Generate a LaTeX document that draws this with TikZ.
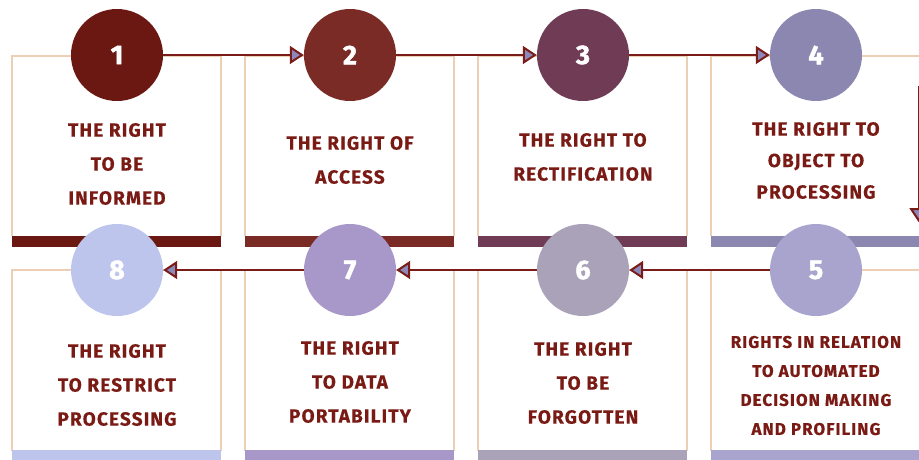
\documentclass[tikz,border=0pt]{standalone}
\usepackage{fontspec}
\setmainfont{Fira Sans}
\newfontfamily\lblfont[LetterSpace=6,BoldFeatures={FakeBold=0.4}]{Fira Sans}
\newfontfamily\numfont[BoldFeatures={FakeBold=1.6}]{Fira Sans}
\usetikzlibrary{arrows.meta}
\definecolor{txt}{HTML}{7A1A14}
\definecolor{conncol}{HTML}{7A1C18}
\definecolor{beige}{HTML}{EDCFB6}
\definecolor{afill}{HTML}{8C88BA}
\definecolor{cA}{HTML}{6C1812}
\definecolor{cB}{HTML}{7A2B25}
\definecolor{cC}{HTML}{6F3B55}
\definecolor{cD}{HTML}{8B87B1}
\definecolor{cE}{HTML}{A9A4CD}
\definecolor{cF}{HTML}{A9A2B8}
\definecolor{cG}{HTML}{A898C9}
\definecolor{cH}{HTML}{BEC5EC}
\tikzset{
  boxline/.style={draw=beige, line width=1.5pt},
  num/.style={circle, minimum size=92pt, inner sep=0pt, text=white,
    font=\numfont\bfseries\fontsize{27}{27}\selectfont},
  lbl/.style={align=center, text=txt, inner sep=0pt,
    font=\lblfont\bfseries\fontsize{19}{34}\selectfont},
  lblmid/.style={align=center, text=txt, inner sep=0pt,
    font=\lblfont\bfseries\fontsize{19}{31.5}\selectfont},
  lblsmall/.style={align=center, text=txt, inner sep=0pt,
    font=\lblfont\bfseries\fontsize{17}{29}\selectfont},
  conn/.style={draw=conncol, line width=2pt,
    -{Triangle[length=14pt,width=18pt,fill=afill]}}
}
\begin{document}
\begin{tikzpicture}[x=1pt,y=-1pt]
\useasboundingbox (0,0) rectangle (919,459);
\clip (0,0) rectangle (919,459);
% boxes, top row
\foreach \xl/\col in {12/cA,245/cB,478/cC,711/cD}{
  \draw[boxline] (\xl,236) -- (\xl,56) -- (\xl+209,56) -- (\xl+209,236);
  \fill[\col] (\xl,236) rectangle (\xl+209,247);
}
% boxes, bottom row
\foreach \xl/\col in {12/cH,245/cG,478/cF,711/cE}{
  \draw[boxline] (\xl,451) -- (\xl,270) -- (\xl+209,270) -- (\xl+209,451);
  \fill[\col] (\xl,450) rectangle (\xl+209,462);
}
% circles
\node[num, fill=cA] (n1) at (117,55) {1};
\node[num, fill=cB] (n2) at (350,55) {2};
\node[num, fill=cC] (n3) at (583,55) {3};
\node[num, fill=cD] (n4) at (816,55) {4};
\node[num, fill=cE] (n5) at (816,270) {5};
\node[num, fill=cF] (n6) at (583,270) {6};
\node[num, fill=cG] (n7) at (350,270) {7};
\node[num, fill=cH] (n8) at (117,270) {8};
% connectors
\draw[conn] (n1) -- (n2);
\draw[conn] (n2) -- (n3);
\draw[conn] (n3) -- (n4);
\draw[conn] (n5) -- (n6);
\draw[conn] (n6) -- (n7);
\draw[conn] (n7) -- (n8);
\coordinate (r1) at (918.5,86);
\coordinate (r2) at (918.5,222);
\draw[conn] (r1) -- (r2);
% labels
\node[lbl] (t1) at (117,164) {THE RIGHT\\TO BE\\INFORMED};
\node[lbl] (t2) at (350,160) {THE RIGHT OF\\ACCESS};
\node[lbl] (t3) at (583,157) {THE RIGHT TO\\RECTIFICATION};
\node[lblmid] (t4) at (816,160.5) {THE RIGHT TO\\OBJECT TO\\PROCESSING};
\node[lblsmall] (t5) at (816,385.5) {RIGHTS IN RELATION\\TO AUTOMATED\\DECISION MAKING\\AND PROFILING};
\node[lbl] (t6) at (583,383) {THE RIGHT\\TO BE\\FORGOTTEN};
\node[lbl] (t7) at (350,382) {THE RIGHT\\TO DATA\\PORTABILITY};
\node[lbl] (t8) at (117,385) {THE RIGHT\\TO RESTRICT\\PROCESSING};
\end{tikzpicture}
\end{document}
